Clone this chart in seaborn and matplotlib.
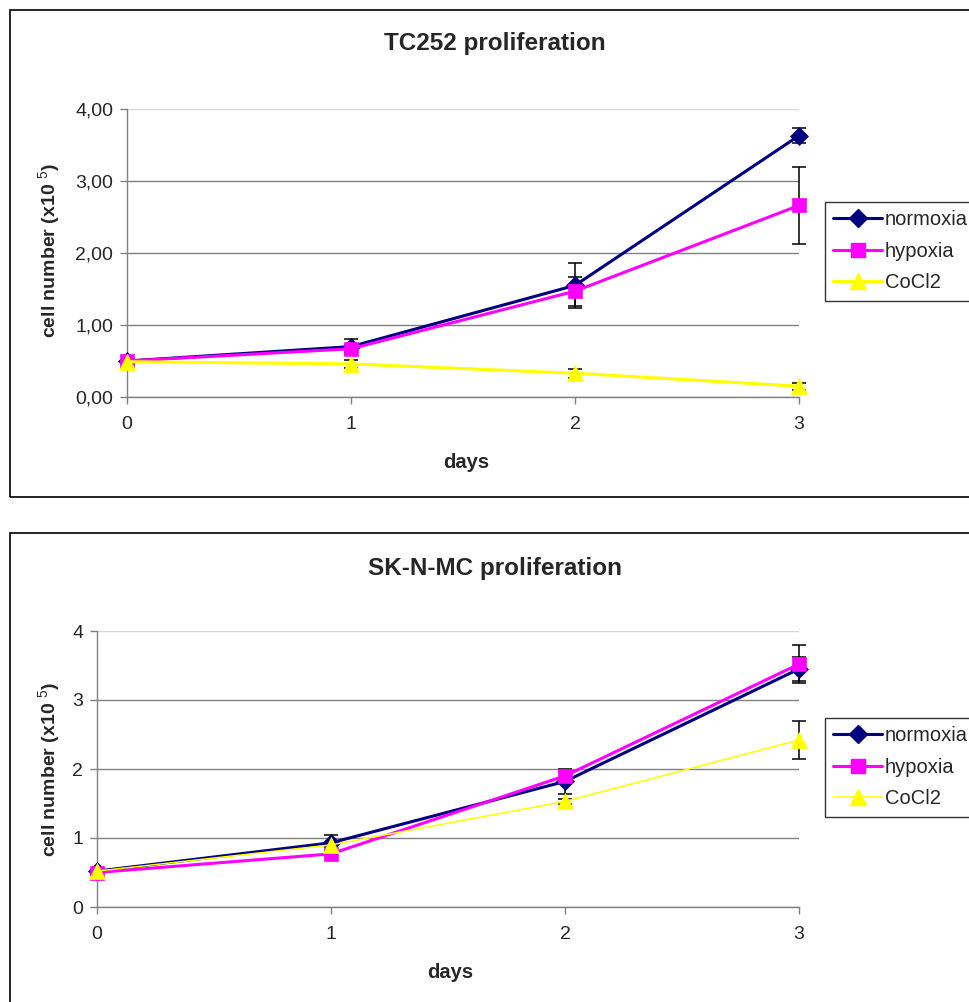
import matplotlib
matplotlib.use("Agg")
import matplotlib.pyplot as plt
import matplotlib.patches as mpatches
from matplotlib.ticker import FuncFormatter
from matplotlib.lines import Line2D
import seaborn as sns

# ---- data ----
days = [0, 1, 2, 3]
conditions = ["normoxia", "hypoxia", "CoCl2"]

# TC252
tc_normoxia = [0.50, 0.70, 1.55, 3.63]
tc_hypoxia = [0.50, 0.67, 1.47, 2.66]
tc_cocl2 = [0.49, 0.46, 0.33, 0.15]
tc_normoxia_err = [0.02, 0.10, 0.31, 0.10]
tc_hypoxia_err = [0.02, 0.05, 0.20, 0.54]
tc_cocl2_err = [0.02, 0.06, 0.06, 0.05]

# SK-N-MC
sk_normoxia = [0.52, 0.93, 1.82, 3.45]
sk_hypoxia = [0.50, 0.77, 1.90, 3.52]
sk_cocl2 = [0.52, 0.90, 1.53, 2.42]
sk_normoxia_err = [0.02, 0.11, 0.18, 0.17]
sk_hypoxia_err = [0.02, 0.03, 0.05, 0.27]
sk_cocl2_err = [0.02, 0.03, 0.03, 0.27]

y_ticks = [0, 1, 2, 3, 4]

colors = {"normoxia": "#000080", "hypoxia": "#FF00FF", "CoCl2": "#FFFF00"}
markers = {"normoxia": "D", "hypoxia": "s", "CoCl2": "^"}
msizes = {"normoxia": 9, "hypoxia": 10, "CoCl2": 11}

sns.set_style("white")
plt.rcParams["font.family"] = ["Liberation Sans", "DejaVu Sans"]
plt.rcParams["mathtext.fontset"] = "custom"
plt.rcParams["mathtext.rm"] = "Liberation Sans"
plt.rcParams["mathtext.bf"] = "Liberation Sans:bold"

W, H = 970, 1002
fig = plt.figure(figsize=(W / 100, H / 100), dpi=100)


def fx(px):
    return px / W


def fy(py):
    return 1 - py / H


def draw_panel(ax, series, errors, widths, fmt):
    handles = []
    for cond, vals, errs, lw in zip(conditions, series, errors, widths):
        ax.errorbar(days, vals, yerr=errs, fmt="none", ecolor="black",
                    elinewidth=1.1, capsize=5, capthick=1.1, zorder=2, clip_on=False)
        sns.lineplot(x=days, y=vals, ax=ax, color=colors[cond], marker=markers[cond],
                     markersize=msizes[cond], markeredgecolor=colors[cond],
                     markeredgewidth=0.5, linewidth=lw, clip_on=False, zorder=3)
        handles.append(Line2D([], [], color=colors[cond], marker=markers[cond],
                              markersize=msizes[cond], markeredgecolor=colors[cond],
                              linewidth=lw, label=cond))
    ax.set_xlim(0, 3)
    ax.set_ylim(0, 4)
    ax.set_xticks(days)
    ax.set_yticks(y_ticks)
    ax.yaxis.set_major_formatter(FuncFormatter(fmt))
    ax.tick_params(axis="both", direction="out", length=5, width=1, color="#808080",
                   labelsize=14, pad=5, left=True, bottom=True)
    ax.tick_params(axis="x", pad=9)
    ax.yaxis.grid(True, color="#808080", linewidth=1)
    ax.xaxis.grid(False)
    ax.get_ygridlines()[-1].set_color("#d8d8d8")
    for side in ["top", "right"]:
        ax.spines[side].set_visible(False)
    for side in ["left", "bottom"]:
        ax.spines[side].set_color("#808080")
        ax.spines[side].set_linewidth(1)
    ax.set_xlabel("")
    ax.set_ylabel("")
    return handles


def add_legend(ax, handles, top_px):
    leg = ax.legend(handles=handles, loc="upper left",
                    bbox_to_anchor=(fx(825), fy(top_px)), bbox_transform=fig.transFigure,
                    borderaxespad=0, frameon=True, fancybox=False, fontsize=14.5,
                    handlelength=2.4, handletextpad=0.15, labelspacing=0.62,
                    borderpad=0.42)
    leg.get_frame().set_edgecolor("black")
    leg.get_frame().set_linewidth(1)


# outer frames
fig.patches.append(mpatches.Rectangle((fx(10), fy(497)), 1.2, (497 - 10) / H, fill=False,
                                      edgecolor="black", linewidth=1.2,
                                      transform=fig.transFigure, figure=fig))
fig.patches.append(mpatches.Rectangle((fx(10), -0.1), 1.2, fy(533) + 0.1, fill=False,
                                      edgecolor="black", linewidth=1.2,
                                      transform=fig.transFigure, figure=fig))

# ---- TC252 ----
ax1 = fig.add_axes([fx(127), fy(397), fx(799) - fx(127), fy(109) - fy(397)])
ax1.set_facecolor("none")
h1 = draw_panel(ax1, [tc_normoxia, tc_hypoxia, tc_cocl2],
                [tc_normoxia_err, tc_hypoxia_err, tc_cocl2_err],
                [2.2, 2.2, 2.2], lambda v, p: f"{v:.2f}".replace(".", ","))
add_legend(ax1, h1, 202)
fig.text(fx(495), fy(50), "TC252 proliferation", ha="center", va="baseline",
         fontsize=17.5, fontweight="bold")
fig.text(fx(50), fy(250), r"cell number (x10 $^{5}$)", ha="center", va="center",
         rotation=90, fontsize=14, fontweight="bold")
fig.text(fx(466), fy(462), "days", ha="center", va="center", fontsize=14.5, fontweight="bold")

# ---- SK-N-MC ----
ax2 = fig.add_axes([fx(97), fy(907), fx(799) - fx(97), fy(631) - fy(907)])
ax2.set_facecolor("none")
h2 = draw_panel(ax2, [sk_normoxia, sk_hypoxia, sk_cocl2],
                [sk_normoxia_err, sk_hypoxia_err, sk_cocl2_err],
                [2.2, 2.2, 1.1], lambda v, p: f"{v:.0f}")
add_legend(ax2, h2, 718)
fig.text(fx(495), fy(575), "SK-N-MC proliferation", ha="center", va="baseline",
         fontsize=17.5, fontweight="bold")
fig.text(fx(50), fy(769), r"cell number (x10 $^{5}$)", ha="center", va="center",
         rotation=90, fontsize=14, fontweight="bold")
fig.text(fx(450), fy(972), "days", ha="center", va="center", fontsize=14.5, fontweight="bold")

fig.savefig("out.png", dpi=100, facecolor="white")
